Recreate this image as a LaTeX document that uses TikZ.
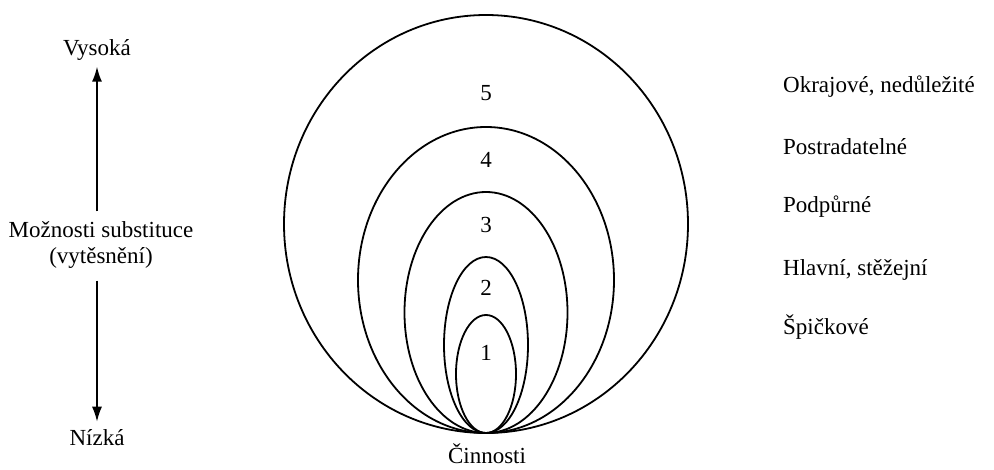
\documentclass[tikz,border=0pt]{standalone}
\usepackage{fontspec}
\setmainfont{Liberation Serif}
\usetikzlibrary{arrows.meta}

\begin{document}
\begin{tikzpicture}[
  x=1pt, y=-1pt,
  every node/.style={font=\fontsize{23}{26}\selectfont, inner sep=0pt},
  oval/.style={draw, line width=1.8pt},
  lvl/.style={anchor=center},
  desc/.style={anchor=west},
  updown/.style={line width=1.6pt, -{Latex[length=15pt,width=10pt]}}
]
\useasboundingbox (0,0) rectangle (994,470);
% nested ovals, all touching the bottom point
\foreach \rx/\ry/\ly/\n in {202/209/93/5, 128/153/160/4, 81.5/120.5/225/3, 42/88/288/2, 30/59/353/1} {
  \draw[oval] (486,433-\ry) ellipse [x radius=\rx, y radius=\ry];
  \node[lvl] (n\n) at (486,\ly) {\n};
}
\node (act) at (487,454) {Činnosti};
% descriptions
\node[desc] (d5) at (783,87) {Okrajové, nedůležité};
\node[desc] (d4) at (783,147) {Postradatelné};
\node[desc] (d3) at (783,207) {Podpůrné};
\node[desc] (d2) at (783,270) {Hlavní, stěžejní};
\node[desc] (d1) at (783,327) {Špičkové};
% scale on the left
\node (high) at (97,50) {Vysoká};
\node[align=center] (subst) at (101,245) {Možnosti substituce\\(vytěsnění)};
\node (low) at (97,438) {Nízká};
\draw[updown, shorten <=10pt, shorten >=6pt] (subst.north -| high) -- (high.south);
\draw[updown, shorten <=12pt, shorten >=8pt] (subst.south -| low) -- (low.north);
\end{tikzpicture}
\end{document}
